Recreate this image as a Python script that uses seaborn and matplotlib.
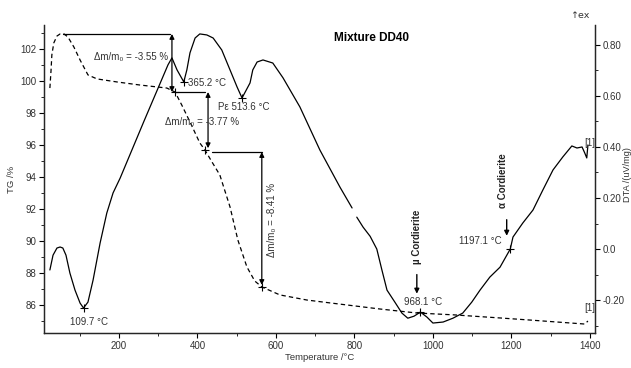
import numpy as np
import pandas as pd
import matplotlib
matplotlib.use("Agg")
import matplotlib.pyplot as plt
import seaborn as sns

# ---------------- data ----------------
tg_temp = [24, 27, 29, 34, 42, 50, 60, 70, 85, 101, 121, 144, 195, 253, 322, 343, 360, 381,
           406, 419, 437, 457, 483, 503, 526, 546, 564, 610, 679, 738, 865, 959, 1056, 1171,
           1247, 1387, 1395]
tg_vals = [99.56, 100.69, 101.63, 102.38, 102.81, 102.94, 102.94, 102.75, 102.13, 101.31,
           100.38, 100.13, 99.94, 99.75, 99.56, 99.31, 98.5, 97.44, 96.13, 95.69, 94.94,
           94.13, 92.13, 90.06, 88.38, 87.5, 87.13, 86.63, 86.31, 86.13, 85.75, 85.5, 85.38,
           85.19, 85.06, 84.81, 85.0]

dta_temp = [24, 32, 42, 50, 57, 65, 75, 88, 101, 109.7, 121, 134, 152, 169, 185, 203, 264,
            325, 335, 348, 365.2, 373, 381, 394, 406, 424, 440, 462, 483, 501, 513.6, 534,
            541, 552, 567, 592, 618, 661, 712, 763, 794, 800, 806, 822, 840, 857, 870, 883,
            903, 921, 936, 952, 968.1, 985, 1000, 1026, 1051, 1076, 1099, 1120, 1145, 1171,
            1197.1, 1204, 1229, 1255, 1280, 1306, 1331, 1354, 1367, 1380, 1387, 1392, 1395]
dta_vals = [-0.082, -0.024, 0.004, 0.008, 0.004, -0.024, -0.094, -0.161, -0.212, -0.231,
            -0.208, -0.122, 0.024, 0.141, 0.220, 0.278, 0.502, 0.722, 0.749, 0.702, 0.655,
            0.702, 0.769, 0.827, 0.843, 0.839, 0.827, 0.780, 0.702, 0.635, 0.592, 0.651,
            0.702, 0.733, 0.741, 0.729, 0.671, 0.557, 0.388, 0.243, 0.161, np.nan, 0.125,
            0.086, 0.050, 0.000, -0.082, -0.161, -0.208, -0.251, -0.271, -0.263, -0.247,
            -0.267, -0.290, -0.286, -0.271, -0.251, -0.208, -0.161, -0.110, -0.071, 0.0,
            0.047, 0.102, 0.153, 0.231, 0.310, 0.361, 0.404, 0.396, 0.400, 0.376, 0.357,
            0.408]

dta_peaks_t = [109.7, 365.2, 513.6, 968.1, 1197.1]
dta_peaks_v = [-0.231, 0.655, 0.592, -0.247, 0.0]
dta_peak_labels = ["109.7 °C", "365.2 °C", "Pε 513.6 °C", "968.1 °C", "1197.1 °C"]

mass_loss_labels = ["Δm/m₀ = -3.55 %", "Δm/m₀ = -3.77 %", "Δm/m₀ = -8.41 %"]
step_t = [335, 427, 564]
step_top = [102.94, 99.31, 95.56]
step_bot = [99.31, 95.8, 87.25]
step_marks_t = [342, 419, 564]
step_marks_v = [99.31, 95.69, 87.13]

x_ticks = [200, 400, 600, 800, 1000, 1200, 1400]
tg_ticks = [86, 88, 90, 92, 94, 96, 98, 100, 102]
dta_ticks = [-0.2, 0.0, 0.2, 0.4, 0.6, 0.8]
dta_tick_labels = ["-0.20", "0.0", "0.20", "0.40", "0.60", "0.80"]

# ---------------- style ----------------
sns.set_style("ticks")
plt.rcParams["font.family"] = ["Liberation Sans", "DejaVu Sans"]
plt.rcParams["xtick.direction"] = "out"
plt.rcParams["ytick.direction"] = "out"
TXT = "#333333"
FS = 7
TFS = 7

fig = plt.figure(figsize=(6.31, 3.68), dpi=100)
ax = fig.add_axes([44 / 631, 1 - 333 / 368, (595 - 44) / 631, (333 - 25) / 368])
ax2 = ax.twinx()

tg_df = pd.DataFrame({"T": tg_temp, "TG": tg_vals})
sns.lineplot(data=tg_df, x="T", y="TG", ax=ax, color="black", lw=0.9,
             linestyle=(0, (3.5, 2.5)), sort=False, estimator=None)

dta_df = pd.DataFrame({"T": dta_temp, "DTA": dta_vals})
dta_df["seg"] = dta_df["DTA"].isna().cumsum()
dta_df = dta_df.dropna()
for _, part in dta_df.groupby("seg"):
    sns.lineplot(data=part, x="T", y="DTA", ax=ax2, color="black", lw=0.9,
                 sort=False, estimator=None)

# markers
ax2.plot(dta_peaks_t, dta_peaks_v, ls="none", marker="+", ms=6, mew=0.8, color="black")
ax.plot(step_marks_t, step_marks_v, ls="none", marker="+", ms=6, mew=0.8, color="black")

# limits / ticks
ax.set_xlim(9, 1413)
ax.set_ylim(84.25, 103.5)
ax2.set_ylim(-0.329, 0.878)
ax.set_xticks(x_ticks)
ax.set_xticks([100, 300, 500, 700, 900, 1100, 1300], minor=True)
ax.set_yticks(tg_ticks)
ax.set_yticks(np.arange(85, 104, 1), minor=True)
ax2.set_yticks(dta_ticks)
ax2.set_yticklabels(dta_tick_labels)
ax2.set_yticks(np.arange(-0.3, 0.85, 0.1), minor=True)
for a in (ax, ax2):
    a.tick_params(axis="both", which="major", labelsize=TFS, length=3.5, width=0.8,
                  pad=2, colors="black", labelcolor=TXT)
    a.tick_params(axis="both", which="minor", length=2, width=0.7)
    a.spines["top"].set_visible(False)
    for s in a.spines.values():
        s.set_linewidth(0.9)
ax.set_xlabel("Temperature /°C", fontsize=6.8, color=TXT, labelpad=2)
ax.set_ylabel("TG /%", fontsize=6.8, color=TXT, labelpad=3)
ax2.set_ylabel("")

fig.text(0.595 * (551 / 631) + 44 / 631, 1 - 38 / 368, "Mixture DD40", fontsize=8.5,
         fontweight="bold", ha="center", va="center", color="black")
fig.text(580 / 631, 1 - 15 / 368, "↑ex", fontsize=6.8, ha="center", va="center",
         color=TXT, family=["DejaVu Sans"])
fig.text(627.5 / 631, 1 - 175 / 368, "DTA /(uV/mg)", fontsize=6.6, rotation=90,
         ha="center", va="center", color=TXT)

# mass-loss annotations
ax.plot([57, 330], [102.94, 102.94], color="black", lw=0.9)
ax.plot([343, 419], [99.31, 99.31], color="black", lw=0.9)
ax.plot([437, 564], [95.56, 95.56], color="black", lw=0.9)
for t, top, bot in zip(step_t, step_top, step_bot):
    ax.annotate("", xy=(t, bot), xytext=(t, top),
                arrowprops=dict(arrowstyle="<|-|>", color="black", lw=0.9,
                                mutation_scale=7, shrinkA=0, shrinkB=0))
ax.text(231, 101.5, mass_loss_labels[0], fontsize=FS, ha="center", va="center", color=TXT)
ax.text(411, 97.44, mass_loss_labels[1], fontsize=FS, ha="center", va="center", color=TXT)
ax.text(590, 91.3, mass_loss_labels[2], fontsize=FS, ha="center", va="center", color=TXT,
        rotation=90)

# DTA peak labels
ax2.text(124, -0.286, dta_peak_labels[0], fontsize=FS, ha="center", va="center", color=TXT)
ax2.text(376, 0.651, dta_peak_labels[1], fontsize=FS, ha="left", va="center", color=TXT)
ax2.text(452, 0.557, dta_peak_labels[2], fontsize=FS, ha="left", va="center", color=TXT)
ax2.text(974, -0.208, dta_peak_labels[3], fontsize=FS, ha="center", va="center", color=TXT)
ax2.text(1120, 0.031, dta_peak_labels[4], fontsize=FS, ha="center", va="center", color=TXT)
ax2.text(1400, 0.416, "[1]", fontsize=FS, ha="center", va="center", color=TXT)
ax2.text(1400, -0.231, "[1]", fontsize=FS, ha="center", va="center", color=TXT)

# cordierite labels
ax2.text(959, 0.047, "µ Cordierite", fontsize=FS, fontweight="bold", rotation=90,
         ha="center", va="center", color="#222222")
ax2.annotate("", xy=(959, -0.175), xytext=(959, -0.100),
             arrowprops=dict(arrowstyle="-|>", color="black", lw=1.0, mutation_scale=7,
                             shrinkA=0, shrinkB=0))
ax2.text(1178, 0.267, "α Cordierite", fontsize=FS, fontweight="bold", rotation=90,
         ha="center", va="center", color="#222222")
ax2.annotate("", xy=(1188, 0.052), xytext=(1188, 0.115),
             arrowprops=dict(arrowstyle="-|>", color="black", lw=1.0, mutation_scale=7,
                             shrinkA=0, shrinkB=0))

fig.savefig("out.png", dpi=100)
